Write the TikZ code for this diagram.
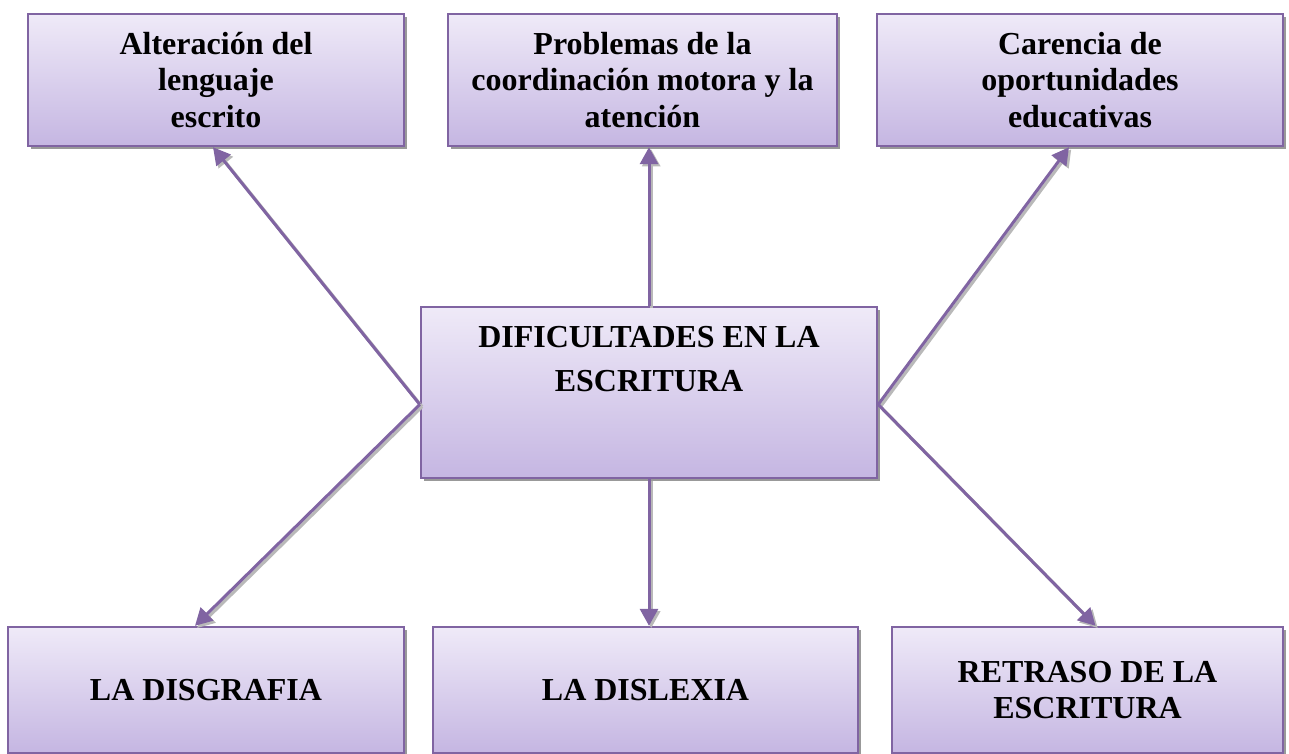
\documentclass[tikz,border=0pt]{standalone}
\usepackage{fontspec}
\setmainfont{Liberation Serif}
\usetikzlibrary{arrows.meta, shadows}
\definecolor{lila}{RGB}{128,100,162}
\definecolor{lilaclaro}{RGB}{239,234,248}
\definecolor{lilaoscuro}{RGB}{197,182,226}

\begin{document}
\begin{tikzpicture}[x=0.5pt, y=-0.5pt,
        caja/.style={draw=lila, line width=1.2pt, top color=lilaclaro, bottom color=lilaoscuro,
            drop shadow={shadow xshift=1.5pt, shadow yshift=-1.5pt, fill=gray!80, opacity=1},
            align=center, inner sep=0pt, font=\fontsize{16}{18.4}\selectfont\bfseries},
        flecha/.style={draw=lila, line width=1.5pt, -{Triangle[length=8.5pt, width=9pt]},
            preaction={draw=gray!55, line width=1.6pt, transform canvas={shift={(1.1pt,-1.1pt)}}}}]
        \useasboundingbox (0,0) rectangle (1289,754);
        % fila de arriba
        \node[caja, minimum width=188pt, minimum height=66pt] (alt) at (216,80)
            {Alteración del\\lenguaje\\escrito};
        \node[caja, minimum width=194.5pt, minimum height=66pt] (prob) at (642.5,80)
            {Problemas de la\\coordinación motora y la\\atención};
        \node[caja, minimum width=203pt, minimum height=66pt] (car) at (1080,80)
            {Carencia de\\oportunidades\\educativas};
        % centro
        \node[caja, minimum width=228pt, minimum height=85.5pt] (esc) at (649,392.5)
            {\parbox[c][85.5pt][t]{226pt}{\centering\fontsize{16}{22}\selectfont\vspace*{9.5pt}DIFICULTADES EN LA\\ESCRITURA}};
        % fila de abajo
        \node[caja, minimum width=198pt, minimum height=63pt] (disg) at (206,690) {LA DISGRAFIA};
        \node[caja, minimum width=212.5pt, minimum height=63pt] (disl) at (645.5,690) {LA DISLEXIA};
        \node[caja, minimum width=195.5pt, minimum height=63pt] (ret) at (1087.5,690)
            {RETRASO DE LA\\ESCRITURA};
        % flechas
        \draw[flecha] ([yshift=-6pt]esc.west) -- ([xshift=-1.5pt]alt.south);
        \draw[flecha] (esc.north) -- (esc.north |- prob.south);
        \draw[flecha] ([yshift=-6pt]esc.east) -- ([xshift=-5.5pt]car.south);
        \draw[flecha] ([yshift=-6pt]esc.west) -- ([xshift=-5.5pt]disg.north);
        \draw[flecha] (esc.south) -- (esc.south |- disl.north);
        \draw[flecha] ([yshift=-6pt]esc.east) -- ([xshift=4pt]ret.north);
    \end{tikzpicture}
\end{document}
